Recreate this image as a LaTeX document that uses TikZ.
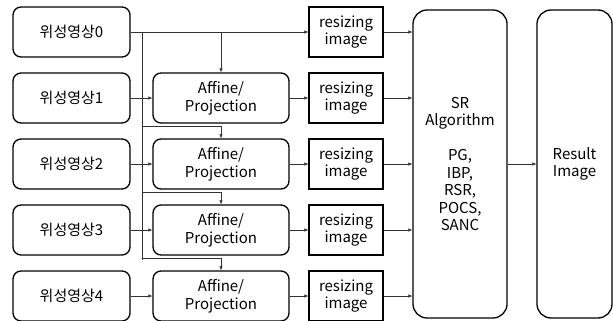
\documentclass[tikz,border=0pt]{standalone}
\usepackage{fontspec}
\setmainfont{Noto Sans CJK KR}
\usetikzlibrary{arrows.meta}
\begin{document}
\begin{tikzpicture}[x=1pt,y=-1pt,
        font=\fontsize{15}{17.5}\selectfont,
        box/.style={draw,line width=1.3pt,align=center,
            inner sep=0pt,minimum height=50pt},
        srcbox/.style={box,rounded corners=8pt,minimum width=117pt},
        affbox/.style={box,rounded corners=8pt,minimum width=136pt},
        rszbox/.style={box,minimum width=74pt},
        tallbox/.style={box,rounded corners=14pt,minimum height=308pt},
        wire/.style={line width=0.5pt,draw=black!80},
        link/.style={wire,-{Latex[length=4pt,width=3.5pt]}}]
    \useasboundingbox (0,0) rectangle (613,321);
    % input images, one per row
    \foreach \r [count=\i from 0] in {32,98,164,230,296} {
        \node[srcbox] (src\i) at (71.5,\r) {위성영상\i};
        \node[rszbox] (rsz\i) at (346,\r) {resizing\\image};
    }
    \foreach \r [count=\i] in {98,164,230,296}
        \node[affbox] (aff\i) at (221,\r) {Affine/\\Projection};
    \node[tallbox,minimum width=94pt] (sr) at (460,164)
        {SR\\Algorithm\\ \\PG,\\IBP,\\RSR,\\POCS,\\SANC};
    \node[tallbox,minimum width=75pt] (res) at (574.5,164) {Result\\Image};
    % reference image fed to every registration step
    \coordinate (bus) at (142,32);
    \coordinate (busend) at (142,260);
    \draw[wire] (bus) -- (busend);
    \draw[link] (src0) -- (rsz0);
    \draw[link] (aff1.north |- src0) -- (aff1.north);
    \foreach \i in {2,3,4}
        \draw[link] ([yshift=12pt]aff\i.north -| bus) -| (aff\i.north);
    \foreach \i in {1,...,4} {
        \draw[link] (src\i) -- (aff\i);
        \draw[link] (aff\i) -- (rsz\i);
    }
    \foreach \i in {0,...,4}
        \draw[link] (rsz\i.east) -- (rsz\i.east -| sr.west);
    \draw[link] (sr) -- (res);
\end{tikzpicture}
\end{document}
